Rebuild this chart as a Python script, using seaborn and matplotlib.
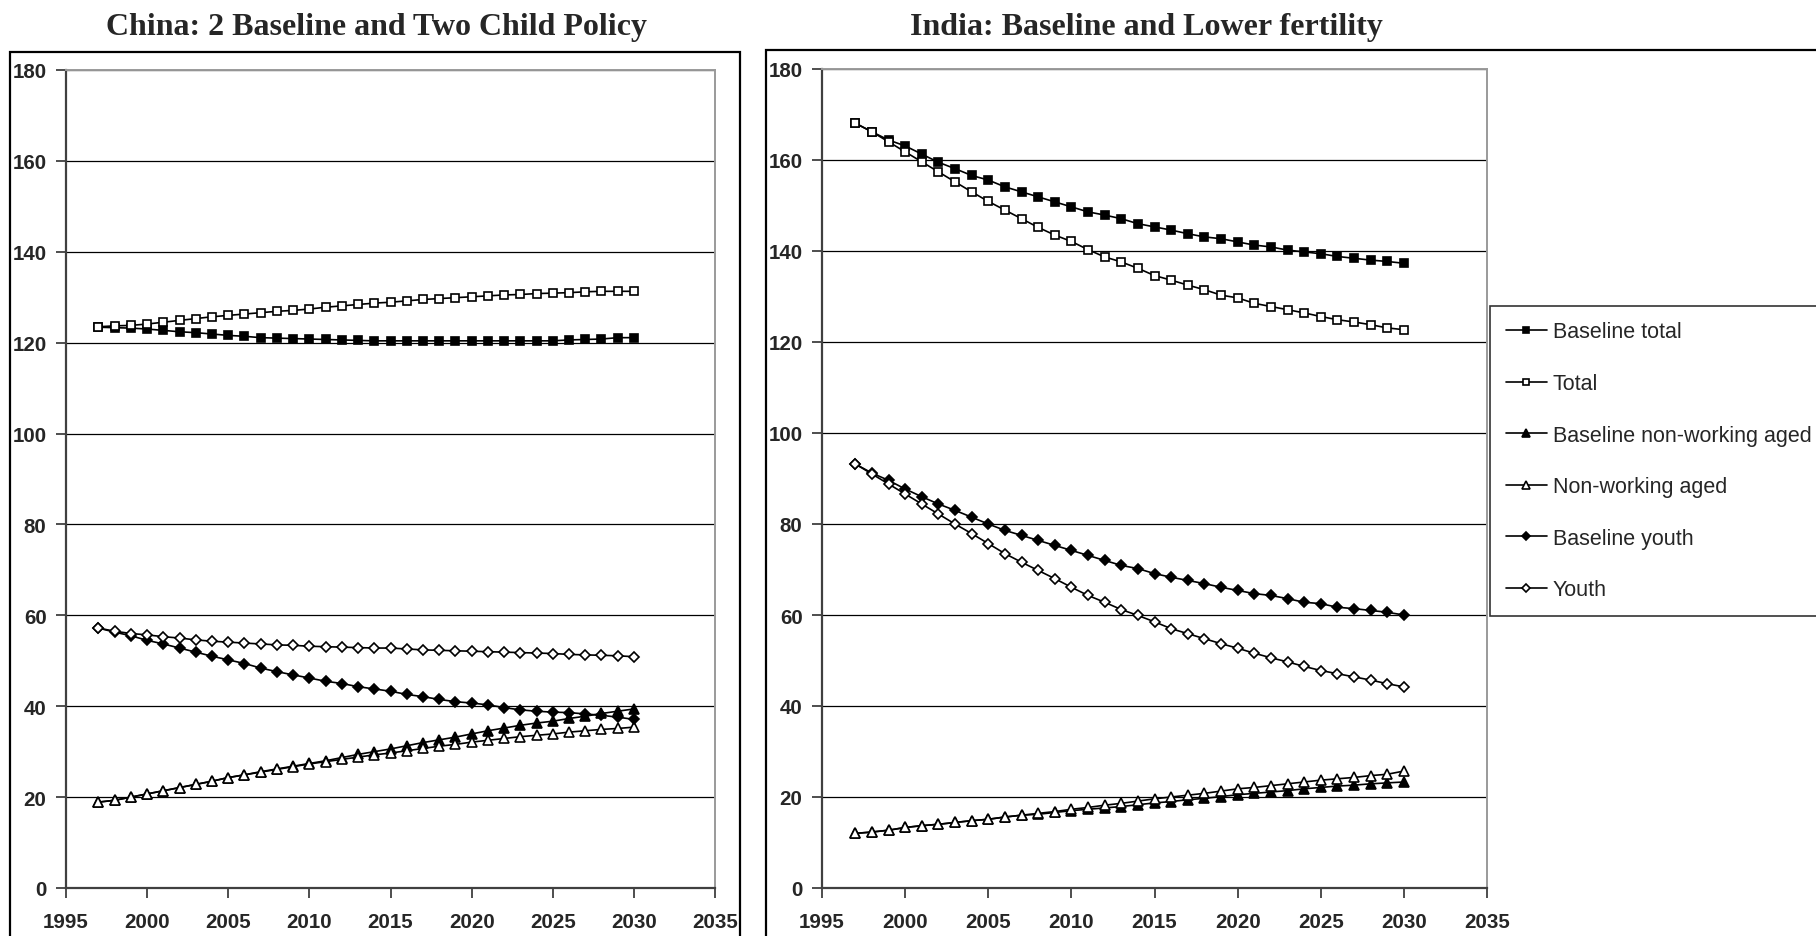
import matplotlib
matplotlib.use("Agg")
import matplotlib.pyplot as plt
import seaborn as sns
from matplotlib.patches import Rectangle

years = list(range(1997, 2031))

china_baseline_total = [123.4, 123.3, 123.2, 123.0, 122.7, 122.4, 122.2, 121.9, 121.6, 121.4,
                        121.1, 121.0, 120.9, 120.8, 120.7, 120.6, 120.5, 120.4, 120.4, 120.4,
                        120.4, 120.4, 120.4, 120.4, 120.4, 120.4, 120.4, 120.4, 120.4, 120.6,
                        120.7, 120.8, 121.1, 121.1]
china_total = [123.5, 123.7, 123.8, 124.1, 124.5, 124.9, 125.3, 125.7, 126.0, 126.3,
               126.6, 126.9, 127.1, 127.4, 127.8, 128.1, 128.4, 128.7, 128.9, 129.2,
               129.5, 129.7, 129.9, 130.1, 130.3, 130.5, 130.6, 130.8, 130.9, 131.0,
               131.2, 131.3, 131.3, 131.3]
china_baseline_nonworking = [18.9, 19.3, 20.0, 20.7, 21.4, 22.1, 22.8, 23.5, 24.3, 24.9,
                             25.6, 26.2, 26.8, 27.4, 28.0, 28.7, 29.4, 30.0, 30.6, 31.3,
                             32.0, 32.6, 33.2, 33.9, 34.6, 35.2, 35.8, 36.3, 36.7, 37.3,
                             37.8, 38.4, 38.9, 39.4]
china_nonworking = [18.9, 19.3, 20.0, 20.7, 21.4, 22.1, 22.8, 23.5, 24.3, 24.9,
                    25.5, 26.1, 26.7, 27.3, 27.8, 28.3, 28.8, 29.3, 29.7, 30.2,
                    30.7, 31.2, 31.6, 32.1, 32.5, 32.9, 33.3, 33.6, 33.9, 34.3,
                    34.6, 34.9, 35.1, 35.4]
china_baseline_youth = [57.2, 56.3, 55.5, 54.5, 53.7, 52.8, 51.9, 51.0, 50.2, 49.4,
                        48.4, 47.6, 46.9, 46.2, 45.5, 45.0, 44.3, 43.8, 43.3, 42.6,
                        42.1, 41.5, 41.0, 40.7, 40.3, 39.7, 39.2, 38.9, 38.7, 38.6,
                        38.3, 38.0, 37.6, 37.1]
china_youth = [57.2, 56.5, 56.0, 55.7, 55.3, 55.0, 54.6, 54.3, 54.1, 53.9,
               53.7, 53.5, 53.4, 53.2, 53.1, 53.0, 52.9, 52.8, 52.8, 52.6,
               52.4, 52.3, 52.2, 52.1, 52.0, 51.9, 51.8, 51.7, 51.6, 51.4,
               51.3, 51.2, 51.1, 50.9]

india_baseline_total = [168.1, 166.2, 164.4, 163.1, 161.3, 159.5, 158.1, 156.6, 155.6, 154.1,
                        153.0, 151.9, 150.8, 149.7, 148.6, 147.9, 147.1, 146.0, 145.3, 144.6,
                        143.8, 143.1, 142.7, 142.0, 141.3, 140.9, 140.2, 139.8, 139.4, 138.8,
                        138.4, 138.0, 137.7, 137.3]
india_total = [168.1, 166.2, 164.0, 161.8, 159.6, 157.4, 155.2, 153.0, 150.9, 149.0,
               147.1, 145.2, 143.5, 142.1, 140.3, 138.7, 137.6, 136.2, 134.6, 133.6,
               132.5, 131.5, 130.3, 129.7, 128.5, 127.8, 127.1, 126.4, 125.6, 124.9,
               124.4, 123.8, 123.1, 122.7]
india_baseline_nonworking = [12.0, 12.3, 12.7, 13.3, 13.7, 14.0, 14.4, 14.8, 15.1, 15.6,
                             16.0, 16.2, 16.6, 17.0, 17.3, 17.6, 17.9, 18.3, 18.7, 19.0,
                             19.4, 19.7, 20.1, 20.5, 20.8, 21.1, 21.4, 21.8, 22.1, 22.4,
                             22.6, 22.9, 23.1, 23.3]
india_nonworking = [12.0, 12.3, 12.7, 13.3, 13.7, 14.0, 14.4, 14.8, 15.1, 15.6,
                    16.0, 16.4, 16.8, 17.3, 17.7, 18.2, 18.6, 19.1, 19.6, 20.0,
                    20.4, 20.8, 21.3, 21.8, 22.1, 22.5, 22.9, 23.3, 23.7, 24.0,
                    24.3, 24.7, 25.0, 25.7]
india_baseline_youth = [93.2, 91.2, 89.6, 87.7, 86.0, 84.4, 83.0, 81.5, 80.0, 78.6,
                        77.5, 76.4, 75.3, 74.2, 73.1, 72.0, 70.9, 70.2, 69.1, 68.3,
                        67.6, 66.9, 66.1, 65.4, 64.7, 64.3, 63.6, 62.8, 62.5, 61.7,
                        61.4, 61.0, 60.6, 60.0]
india_youth = [93.2, 91.0, 88.8, 86.6, 84.4, 82.2, 80.0, 77.9, 75.7, 73.5,
               71.6, 69.8, 68.0, 66.1, 64.3, 62.8, 61.2, 59.9, 58.5, 57.0,
               55.9, 54.8, 53.7, 52.7, 51.6, 50.6, 49.7, 48.7, 47.8, 47.1,
               46.4, 45.7, 44.9, 44.2]

labels = ["Baseline total", "Total", "Baseline non-working aged",
          "Non-working aged", "Baseline youth", "Youth"]
china_series = [china_baseline_total, china_total, china_baseline_nonworking,
                china_nonworking, china_baseline_youth, china_youth]
india_series = [india_baseline_total, india_total, india_baseline_nonworking,
                india_nonworking, india_baseline_youth, india_youth]
titles = ["China: 2 Baseline and Two Child Policy", "India: Baseline and Lower fertility"]
xticks = [1995, 2000, 2005, 2010, 2015, 2020, 2025, 2030, 2035]
yticks = [0, 20, 40, 60, 80, 100, 120, 140, 160, 180]

# marker styles (marker, filled, size)
styles = [("s", True, 5.8), ("s", False, 5.8), ("^", True, 7.0),
          ("^", False, 7.0), ("D", True, 5.4), ("D", False, 5.4)]

sns.set_style("white")
plt.rcParams['font.family'] = ['Liberation Sans', 'DejaVu Sans']

W, H = 1816, 937
fig = plt.figure(figsize=(W / 100, H / 100), dpi=100)


def fx(px):
    return px / W


def fy(py):
    return 1 - py / H


ax1 = fig.add_axes([fx(66), fy(889), fx(715) - fx(66), fy(71) - fy(889)])
ax2 = fig.add_axes([fx(822), fy(889), fx(1487) - fx(822), fy(70) - fy(889)])

for ax, series in ((ax1, china_series), (ax2, india_series)):
    for vals, lab, (mk, filled, ms) in zip(series, labels, styles):
        sns.lineplot(x=years, y=vals, ax=ax, color="black", linewidth=1.2,
                     marker=mk, markersize=ms,
                     markerfacecolor="black" if filled else "white",
                     markeredgecolor="black", markeredgewidth=1.2,
                     label=lab, legend=False)
    ax.set_xlim(1995, 2035)
    ax.set_ylim(0, 180)
    ax.set_xticks(xticks)
    ax.set_yticks(yticks)
    ax.set_xticklabels([str(t) for t in xticks])
    ax.set_yticklabels([str(t) for t in yticks])
    ax.set_xlabel("")
    ax.set_ylabel("")
    ax.yaxis.grid(True, color="black", linewidth=0.9)
    ax.xaxis.grid(False)
    for s in ("left", "bottom"):
        ax.spines[s].set_color("#404040")
        ax.spines[s].set_linewidth(1.6)
    for s in ("top", "right"):
        ax.spines[s].set_color("#9a9a9a")
        ax.spines[s].set_linewidth(1.4)
    ax.tick_params(axis="both", direction="out", length=7, width=1.3,
                   color="#404040", labelsize=14.8, left=True, bottom=True)
    ax.tick_params(axis="y", pad=7)
    ax.tick_params(axis="x", pad=10)
    for lbl in ax.get_xticklabels() + ax.get_yticklabels():
        lbl.set_fontweight("bold")

# outer chart frames
fig.add_artist(Rectangle((fx(10), fy(980)), fx(740) - fx(10), fy(53) - fy(980),
                         transform=fig.transFigure, fill=False, ec="black", lw=1.6))
fig.add_artist(Rectangle((fx(766), fy(980)), fx(1860) - fx(766), fy(51) - fy(980),
                         transform=fig.transFigure, fill=False, ec="black", lw=1.6))

# titles
fig.text(fx(376), fy(27), titles[0], ha="center", va="center",
         family=["Liberation Serif", "DejaVu Serif"], fontweight="bold", fontsize=23)
fig.text(fx(1146), fy(27), titles[1], ha="center", va="center",
         family=["Liberation Serif", "DejaVu Serif"], fontweight="bold", fontsize=23)

handles, labs = ax2.get_legend_handles_labels()
leg = fig.legend(handles, labs, loc="upper left",
                 bbox_to_anchor=(fx(1490), fy(307)), bbox_transform=fig.transFigure,
                 borderaxespad=0, frameon=True, fancybox=False, shadow=False,
                 fontsize=15.5, handlelength=1.95, handletextpad=0.25,
                 labelspacing=1.42, borderpad=0.72, markerscale=0.75)
leg.get_frame().set_edgecolor("black")
leg.get_frame().set_linewidth(1.2)
leg.get_frame().set_facecolor("white")

fig.savefig("out.png", dpi=100)
